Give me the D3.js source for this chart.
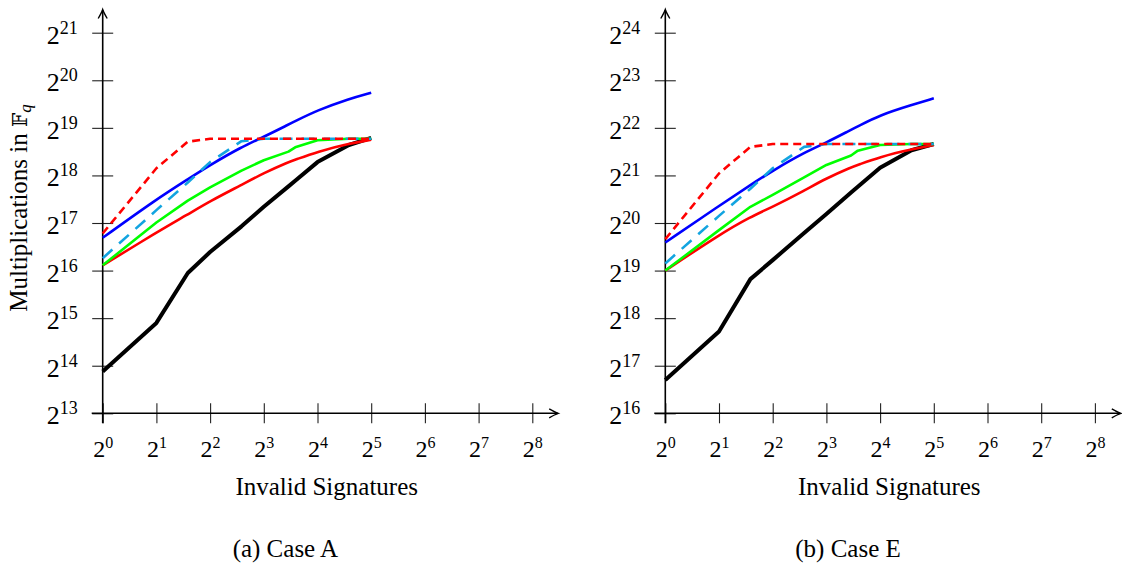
<!DOCTYPE html>
<html>
<head>
<meta charset="utf-8">
<script src="https://cdn.jsdelivr.net/npm/d3@7"></script>
<style>
  body { margin: 0; background: #fff; }
  text { font-family: "Liberation Serif", "Times New Roman", serif; fill: #000; }
</style>
</head>
<body>
<svg id="chart" width="1122" height="564"></svg>
<script>
// number of invalid signatures (x values)
var invalidSigs = [1, 2, 3, 4, 6, 8, 11, 12, 16, 24, 32]
var xTickExps = [0, 1, 2, 3, 4, 5, 6, 7, 8]

// log2 of the multiplications in F_q
// case A
var aBlack   = [13.88, 14.9, 15.95, 16.39, 16.93, 17.34, 17.77, 17.89, 18.28, 18.64, 18.79]
var aRed     = [16.11, 16.8, 17.18, 17.46, 17.8, 18.05, 18.28, 18.33, 18.5, 18.67, 18.75]
var aGreen   = [16.11, 17.01, 17.47, 17.75, 18.1, 18.32, 18.5, 18.59, 18.74, 18.77, 18.77]
var aBlue    = [16.69, 17.5, 17.92, 18.22, 18.6, 18.81, 19.07, 19.14, 19.37, 19.61, 19.74]
var aCyan    = [16.26, 17.27, 17.85, 18.28, 18.72, 18.77, 18.77, 18.77, 18.77, 18.77, 18.77]
var aRedDash = [16.78, 18.15, 18.71, 18.77, 18.77, 18.77, 18.77, 18.77, 18.77, 18.77, 18.77]
var yTicksA = [13, 14, 15, 16, 17, 18, 19, 20, 21]

// case E
var eBlack   = [16.7, 17.72, 18.82, 19.22, 19.79, 20.19, 20.64, 20.76, 21.16, 21.53, 21.66]
var eRed     = [19.0, 19.75, 20.13, 20.34, 20.68, 20.94, 21.17, 21.22, 21.39, 21.55, 21.64]
var eGreen   = [19.0, 19.85, 20.34, 20.59, 20.96, 21.22, 21.42, 21.52, 21.64, 21.66, 21.66]
var eBlue    = [19.59, 20.36, 20.8, 21.1, 21.48, 21.69, 21.96, 22.03, 22.27, 22.48, 22.62]
var eCyan    = [19.15, 20.15, 20.72, 21.15, 21.6, 21.66, 21.66, 21.66, 21.66, 21.66, 21.66]
var eRedDash = [19.66, 21.04, 21.6, 21.66, 21.66, 21.66, 21.66, 21.66, 21.66, 21.66, 21.66]
var yTicksE = [16, 17, 18, 19, 20, 21, 22, 23, 24]

var styles = {
  black: { color: '#000000', width: 4, dash: null, smooth: false },
  red: { color: '#ff0000', width: 2.6, dash: null, smooth: true },
  green: { color: '#00ff00', width: 2.6, dash: null, smooth: false },
  blue: { color: '#0000ff', width: 2.6, dash: null, smooth: true },
  cyan: { color: '#12a4e0', width: 2.6, dash: '13,9', smooth: false },
  redDash: { color: '#ff0000', width: 2.6, dash: '8,5', smooth: false }
}

var svg = d3.select('#chart')

function arrowPath (tx, ty, dir) {
  // latex style "->" head, dir: 'right' or 'up'
  if (dir === 'right') {
    return 'M' + (tx - 9) + ',' + (ty - 4.5) + ' Q' + (tx - 3) + ',' + (ty - 1) + ' ' + tx + ',' + ty +
      ' Q' + (tx - 3) + ',' + (ty + 1) + ' ' + (tx - 9) + ',' + (ty + 4.5)
  }
  return 'M' + (tx - 4.5) + ',' + (ty + 9) + ' Q' + (tx - 1) + ',' + (ty + 3) + ' ' + tx + ',' + ty +
    ' Q' + (tx + 1) + ',' + (ty + 3) + ' ' + (tx + 4.5) + ',' + (ty + 9)
}

function drawPanel (opts) {
  var left = opts.left
  var bottom = 413.3
  var top = 32.7
  var unitX = 53.7

  var x = d3.scaleLog().base(2)
    .domain([1, 256])
    .range([left, left + 8 * unitX])
  var y = d3.scaleLinear()
    .domain([opts.yTicks[0], opts.yTicks[opts.yTicks.length - 1]])
    .range([bottom, top])

  var g = svg.append('g')

  // x ticks
  var gx = g.append('g')
    .attr('transform', 'translate(0,' + bottom + ')')
    .call(d3.axisBottom(x)
      .tickValues(xTickExps.map(function (e) { return Math.pow(2, e) }))
      .tickSize(10)
      .tickFormat(''))
  gx.select('.domain').remove()
  gx.selectAll('.tick line').attr('y1', -10).attr('y2', 10)
    .attr('stroke', '#222').attr('stroke-width', 1.1)
  gx.selectAll('.tick text').remove()
  var xl = gx.selectAll('.tick').append('text')
    .attr('y', 43.4)
    .attr('text-anchor', 'middle')
    .style('font-size', '24px')
  xl.append('tspan').text('2')
  xl.append('tspan').attr('dy', -9).style('font-size', '16px')
    .text(function (d) { return Math.round(Math.log2(d)) })

  // y ticks
  var gy = g.append('g')
    .attr('transform', 'translate(' + left + ',0)')
    .call(d3.axisLeft(y)
      .tickValues(opts.yTicks)
      .tickSize(10.5)
      .tickFormat(''))
  gy.select('.domain').remove()
  gy.selectAll('.tick line').attr('x1', 10.5).attr('x2', -10.5)
    .attr('stroke', '#222').attr('stroke-width', 1.1)
  gy.selectAll('.tick text').remove()
  var yl = gy.selectAll('.tick').append('text')
    .attr('x', -25)
    .attr('y', 10.5)
    .attr('text-anchor', 'end')
    .style('font-size', '26px')
  yl.append('tspan').text('2')
  yl.append('tspan').attr('dy', -10).style('font-size', '18px')
    .text(function (d) { return d })

  // axis lines with arrows
  g.append('line')
    .attr('x1', left - 11).attr('x2', left + 455)
    .attr('y1', bottom).attr('y2', bottom)
    .attr('stroke', '#000').attr('stroke-width', 1.6)
  g.append('path')
    .attr('d', arrowPath(left + 455.5, bottom, 'right'))
    .attr('fill', 'none').attr('stroke', '#000').attr('stroke-width', 1.4)
  g.append('line')
    .attr('x1', left).attr('x2', left)
    .attr('y1', bottom + 10).attr('y2', 10)
    .attr('stroke', '#000').attr('stroke-width', 1.6)
  g.append('path')
    .attr('d', arrowPath(left, 9.5, 'up'))
    .attr('fill', 'none').attr('stroke', '#000').attr('stroke-width', 1.4)

  // series
  opts.series.forEach(function (s) {
    var st = styles[s.key]
    var line = d3.line()
      .x(function (d) { return x(d[0]) })
      .y(function (d) { return y(d[1]) })
      .curve(st.smooth ? d3.curveBasis : d3.curveLinear)
    var pts = invalidSigs.map(function (n, i) { return [n, s.values[i]] })
    g.append('path')
      .datum(pts)
      .attr('class', s.key)
      .attr('d', line)
      .attr('fill', 'none')
      .attr('stroke', st.color)
      .attr('stroke-width', st.width)
      .attr('stroke-linejoin', 'round')
      .attr('stroke-dasharray', st.dash)
  })

  // titles
  g.append('text')
    .attr('x', left + 224)
    .attr('y', 495)
    .attr('text-anchor', 'middle')
    .style('font-size', '25px')
    .text('Invalid Signatures')

  g.append('text')
    .attr('x', left + 182.7)
    .attr('y', 556.5)
    .attr('text-anchor', 'middle')
    .style('font-size', '25px')
    .text(opts.caption)

  if (opts.yTitle) {
    var yt = g.append('text')
      .attr('transform', 'translate(27,208) rotate(-90)')
      .attr('text-anchor', 'middle')
      .style('font-size', '25px')
    yt.append('tspan').text('Multiplications in ')
    yt.append('tspan').style('font-family', '"DejaVu Serif", "DejaVu Sans", serif')
      .style('font-size', '20px').text('𝔽')
    yt.append('tspan').attr('dy', 4).style('font-size', '17px')
      .style('font-style', 'italic').text('q')
  }
}

drawPanel({
  left: 102.7,
  yTicks: yTicksA,
  caption: '(a) Case A',
  yTitle: true,
  series: [
    { key: 'black', values: aBlack },
    { key: 'red', values: aRed },
    { key: 'green', values: aGreen },
    { key: 'blue', values: aBlue },
    { key: 'cyan', values: aCyan },
    { key: 'redDash', values: aRedDash }
  ]
})

drawPanel({
  left: 665.3,
  yTicks: yTicksE,
  caption: '(b) Case E',
  yTitle: false,
  series: [
    { key: 'black', values: eBlack },
    { key: 'red', values: eRed },
    { key: 'green', values: eGreen },
    { key: 'blue', values: eBlue },
    { key: 'cyan', values: eCyan },
    { key: 'redDash', values: eRedDash }
  ]
})
</script>
</body>
</html>
